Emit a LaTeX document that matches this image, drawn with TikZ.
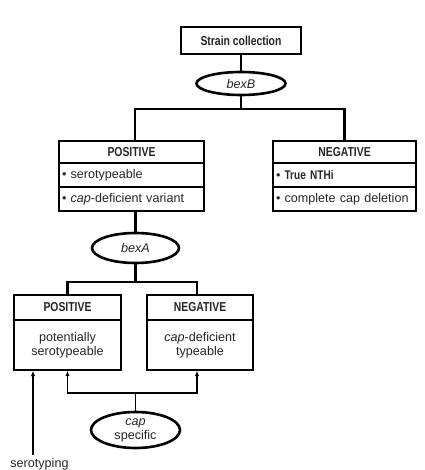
\documentclass[tikz,border=0pt]{standalone}
\usepackage{fontspec}
\setmainfont{Liberation Sans}
\newfontfamily\condfont[FakeStretch=0.8]{Liberation Sans}
\usetikzlibrary{shapes.geometric,arrows.meta}
\begin{document}
\begin{tikzpicture}[x=1pt,y=-1pt,
  thk/.style={line width=2.6pt},
  thn/.style={line width=1.3pt},
  txt/.style={text=black!85},
  hdrbox/.style={draw,thk,rectangle,inner sep=0pt,txt,font=\condfont\bfseries\fontsize{13}{15}\selectfont},
  rowbox/.style={draw,thn,rectangle,inner ysep=0pt,inner xsep=3pt,txt,align=left,font=\fontsize{12.6}{15}\selectfont},
  bodybox/.style={draw,thn,rectangle,inner sep=0pt,txt,align=center,font=\fontsize{12.6}{14.5}\selectfont},
  oval/.style={draw,thk,ellipse,inner sep=0pt,txt,align=center,font=\fontsize{12.6}{14}\selectfont},
  arr/.style={thn,-{Latex[length=5.5pt,width=4.5pt]}}
]
\useasboundingbox (0,0) rectangle (424,470);

% top
\node[hdrbox,minimum width=120pt,minimum height=27pt] (sc) at (241,40.5) {Strain collection};
\node[oval,minimum width=89pt,minimum height=23pt] (bexB) at (241,83.5) {\itshape bexB};

% upper boxes
\node[rowbox,text width=139pt,minimum height=24pt] (pr1) at (131.5,175) {\textbullet\ serotypeable};
\node[rowbox,text width=139pt,minimum height=24pt] (pr2) at (131.5,199) {\textbullet\ \textit{cap}-deficient variant};
\node[hdrbox,minimum width=145pt,minimum height=22pt] (ph) at (131.5,152) {POSITIVE};

\node[rowbox,text width=137pt,minimum height=24pt] (nr1) at (344.5,175) {\textbullet\ {\condfont\bfseries True NTHi}};
\node[rowbox,text width=137pt,minimum height=24pt] (nr2) at (344.5,199) {\textbullet\ complete cap deletion};
\node[hdrbox,minimum width=143pt,minimum height=22pt] (nh) at (344.5,152) {NEGATIVE};

\coordinate (j1) at (241,109);
\draw[thk] (sc.south) -- (bexB.north);
\draw[thk] (bexB.south) -- (j1);
\draw[thk] ([xshift=3.5pt]ph.north) |- (j1) -| (nh.north);

% bexA
\node[oval,minimum width=87pt,minimum height=30pt] (bexA) at (135.5,248) {\itshape bexA};
\draw[thk] ([xshift=4pt]pr2.south) -- (bexA.north);

% lower boxes
\node[bodybox,minimum width=107pt,minimum height=50pt] (pb) at (67.5,345) {potentially\\serotypeable};
\node[hdrbox,minimum width=107pt,minimum height=25pt] (plh) at (67.5,307.5) {POSITIVE};
\node[bodybox,minimum width=106pt,minimum height=50pt] (nb) at (200,345) {\textit{cap}-deficient\\typeable};
\node[hdrbox,minimum width=106pt,minimum height=25pt] (nlh) at (200,307.5) {NEGATIVE};

\coordinate (j2) at (135.5,282);
\draw[thk] (bexA.south) -- (j2);
\draw[thk] (plh.north) |- (j2) -| ([xshift=-3pt]nlh.north);

% cap specific
\node[oval,minimum width=89pt,minimum height=36pt] (cap) at (135.5,430) {\textit{cap}\\specific};
\coordinate (j3) at (135.5,393);
\draw[thn] (cap.north) -- (j3);
\draw[arr] (j3) -| (pb.south);
\draw[arr] (j3) -| ([xshift=-3pt]nb.south);

% serotyping
\node[txt,font=\fontsize{12.6}{14}\selectfont,anchor=base] (sero) at (39.5,467) {serotyping};
\coordinate (st) at (33,455);
\draw[arr] (st) -- (st |- pb.south);
\end{tikzpicture}
\end{document}
